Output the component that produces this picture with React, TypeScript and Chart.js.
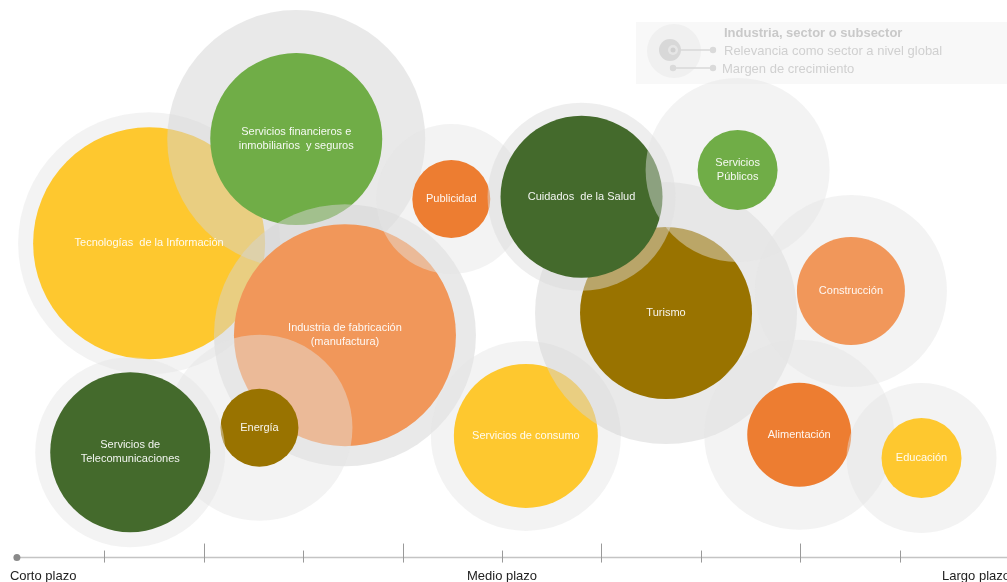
import { useEffect, useRef } from 'react';
import { Chart, registerables } from 'chart.js';

Chart.register(...registerables);

// ---- Data ----
const SECTORS: string[] = [
  'Tecnologías  de la Información',
  'Servicios financieros e\ninmobiliarios  y seguros',
  'Industria de fabricación\n(manufactura)',
  'Publicidad',
  'Energía',
  'Servicios de\nTelecomunicaciones',
  'Servicios de consumo',
  'Turismo',
  'Cuidados  de la Salud',
  'Servicios\nPúblicos',
  'Construcción',
  'Alimentación',
  'Educación',
];
// horizon on the timeline (0 = corto plazo ... 10 = largo plazo)
const HORIZON: number[] = [1.45, 2.93, 3.42, 4.49, 2.56, 1.26, 5.24, 6.65, 5.8, 7.37, 8.51, 7.99, 9.22];
// vertical placement
const PLACEMENT: number[] = [58.2, 76.1, 42.4, 65.8, 26.5, 22.3, 25.1, 46.2, 66.2, 70.8, 50.0, 25.3, 21.3];
// relevancia como sector a nivel global (bubble radius)
const RELEVANCE: number[] = [116, 86, 111, 39, 39, 80, 72, 86, 81, 40, 54, 52, 40];
// margen de crecimiento (halo radius)
const GROWTH: number[] = [131, 129, 131, 75, 93, 95, 95, 131, 94, 92, 96, 95, 75];

const TICK_VALUES: number[] = [1, 2, 3, 4, 5, 6, 7, 8, 9];
const MAJOR_TICKS: number[] = [2, 4, 6, 8];
const AXIS_START = 0.12;
const AXIS_LABELS: string[] = ['Corto plazo', 'Medio plazo', 'Largo plazo'];
const LEGEND_TITLE = 'Industria, sector o subsector';
const LEGEND_ITEMS: string[] = ['Relevancia como sector a nivel global', 'Margen de crecimiento'];

// ---- Styles ----
const YELLOW = '#FEC82F';
const LIGHT_GREEN = '#70AD47';
const DARK_GREEN = '#446A2C';
const OLIVE = '#997300';
const ORANGE = '#ED7D31';
const SALMON = '#F1975A';
const SECTOR_COLORS = [YELLOW, LIGHT_GREEN, SALMON, ORANGE, OLIVE, DARK_GREEN, YELLOW, OLIVE, DARK_GREEN, LIGHT_GREEN, SALMON, ORANGE, YELLOW];
const HALO_LIGHT = 'rgba(228,228,228,0.45)';
const HALO_MID = 'rgba(220,220,220,0.48)';
const HALO_DARK = 'rgba(212,212,212,0.5)';
const HALO_COLORS = [HALO_LIGHT, HALO_DARK, HALO_DARK, HALO_LIGHT, HALO_LIGHT, HALO_LIGHT, HALO_LIGHT, HALO_DARK, HALO_MID, HALO_LIGHT, HALO_LIGHT, HALO_LIGHT, HALO_LIGHT];

const FONT = '"Liberation Sans", Arial, sans-serif';
const W = 1007;
const H = 582;

const legendPlugin = {
  id: 'infoLegend',
  beforeDatasetsDraw(chart: any) {
    const ctx = chart.ctx;
    const right = chart.chartArea.right;
    const x0 = right - 371;
    ctx.save();
    ctx.fillStyle = '#F8F8F8';
    ctx.fillRect(x0, 22, 371, 62);
    // icon
    ctx.fillStyle = '#F0F0F0';
    ctx.beginPath();
    ctx.arc(x0 + 38, 51, 27, 0, Math.PI * 2);
    ctx.fill();
    ctx.fillStyle = '#D8D8D8';
    ctx.beginPath();
    ctx.arc(x0 + 34, 50, 11, 0, Math.PI * 2);
    ctx.fill();
    ctx.fillStyle = '#E6E6E6';
    ctx.beginPath();
    ctx.arc(x0 + 37, 50, 5, 0, Math.PI * 2);
    ctx.fill();
    ctx.fillStyle = '#D0D0D0';
    ctx.beginPath();
    ctx.arc(x0 + 37, 50, 2.5, 0, Math.PI * 2);
    ctx.fill();
    ctx.strokeStyle = '#D8D8D8';
    ctx.lineWidth = 1.5;
    ctx.beginPath();
    ctx.moveTo(x0 + 42, 50);
    ctx.lineTo(x0 + 77, 50);
    ctx.moveTo(x0 + 37, 68);
    ctx.lineTo(x0 + 77, 68);
    ctx.stroke();
    ctx.fillStyle = '#DADADA';
    [[x0 + 77, 50], [x0 + 37, 68], [x0 + 77, 68]].forEach(([cx, cy]) => {
      ctx.beginPath();
      ctx.arc(cx, cy, 3.2, 0, Math.PI * 2);
      ctx.fill();
    });
    // texts
    ctx.textBaseline = 'middle';
    ctx.textAlign = 'left';
    ctx.fillStyle = '#C9C9C9';
    ctx.font = `bold 13px ${FONT}`;
    ctx.fillText(LEGEND_TITLE, x0 + 88, 33);
    ctx.fillStyle = '#D0D0D0';
    ctx.font = `13px ${FONT}`;
    ctx.fillText(LEGEND_ITEMS[0], x0 + 88, 51);
    ctx.fillText(LEGEND_ITEMS[1], x0 + 86, 69);
    ctx.restore();
  },
};

const labelsPlugin = {
  id: 'bubbleLabels',
  afterDatasetsDraw(chart: any) {
    const ctx = chart.ctx;
    const meta = chart.getDatasetMeta(0);
    ctx.save();
    ctx.font = `11px ${FONT}`;
    ctx.fillStyle = 'rgba(255,255,255,0.93)';
    ctx.textAlign = 'center';
    ctx.textBaseline = 'middle';
    SECTORS.forEach((label, i) => {
      const el = meta.data[2 * i + 1];
      if (!el) return;
      const lines = label.split('\n');
      const lh = 14;
      const startY = el.y - ((lines.length - 1) * lh) / 2;
      lines.forEach((ln, k) => ctx.fillText(ln, el.x, startY + k * lh));
    });
    ctx.restore();
  },
};

const timelinePlugin = {
  id: 'timeline',
  afterDraw(chart: any) {
    const ctx = chart.ctx;
    const xs = chart.scales.x;
    const ys = chart.scales.y;
    const y = ys.getPixelForValue(4.2);
    const xStart = xs.getPixelForValue(AXIS_START);
    ctx.save();
    ctx.strokeStyle = '#C4C4C4';
    ctx.lineWidth = 1.5;
    ctx.beginPath();
    ctx.moveTo(xStart, y);
    ctx.lineTo(chart.chartArea.right, y);
    ctx.stroke();
    ctx.strokeStyle = '#9A9A9A';
    ctx.lineWidth = 1;
    TICK_VALUES.forEach((v) => {
      const px = Math.round(xs.getPixelForValue(v)) + 0.5;
      const major = MAJOR_TICKS.includes(v);
      ctx.beginPath();
      ctx.moveTo(px, y - (major ? 14 : 7));
      ctx.lineTo(px, y + 5);
      ctx.stroke();
    });
    ctx.fillStyle = '#8A8A8A';
    ctx.beginPath();
    ctx.arc(xStart, y, 3.5, 0, Math.PI * 2);
    ctx.fill();
    ctx.fillStyle = '#222';
    ctx.font = `13px ${FONT}`;
    ctx.textBaseline = 'middle';
    const ty = y + 19;
    ctx.textAlign = 'left';
    ctx.fillText(AXIS_LABELS[0], xStart - 7, ty);
    ctx.textAlign = 'center';
    ctx.fillText(AXIS_LABELS[1], xs.getPixelForValue(5), ty);
    ctx.textAlign = 'right';
    ctx.fillText(AXIS_LABELS[2], chart.chartArea.right + 3, ty);
    ctx.restore();
  },
};

export default function App() {
  const ref = useRef<HTMLCanvasElement | null>(null);
  useEffect(() => {
    document.body.style.margin = '0';
    if (!ref.current) return;
    const points: any[] = [];
    const colors: string[] = [];
    SECTORS.forEach((_, i) => {
      points.push({ x: HORIZON[i], y: PLACEMENT[i], r: GROWTH[i] });
      colors.push(HALO_COLORS[i]);
      points.push({ x: HORIZON[i], y: PLACEMENT[i], r: RELEVANCE[i] });
      colors.push(SECTOR_COLORS[i]);
    });
    const chart = new Chart(ref.current, {
      type: 'bubble',
      data: {
        datasets: [
          {
            data: points,
            backgroundColor: colors,
            borderWidth: 0,
            hoverBorderWidth: 0,
            clip: false as any,
          } as any,
        ],
      },
      options: {
        animation: false,
        responsive: false,
        events: [],
        layout: { padding: 0, autoPadding: false } as any,
        scales: {
          x: { type: 'linear', min: -0.05, max: 10.08, display: false },
          y: { type: 'linear', min: 0, max: 100, display: false },
        },
        plugins: { legend: { display: false }, tooltip: { enabled: false } },
      },
      plugins: [legendPlugin, labelsPlugin, timelinePlugin],
    });
    return () => chart.destroy();
  }, []);
  return (
    <div style={{ position: 'absolute', left: 0, top: 0, width: W, height: H, background: '#fff' }}>
      <canvas ref={ref} width={W} height={H} style={{ display: 'block' }} />
    </div>
  );
}
